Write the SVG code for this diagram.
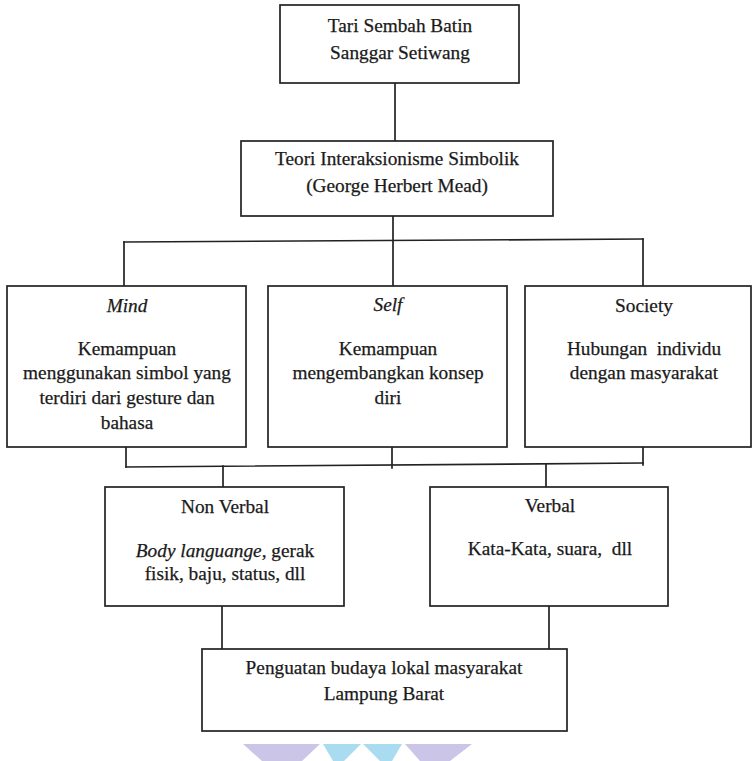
<svg xmlns="http://www.w3.org/2000/svg" width="756" height="761" viewBox="0 0 756 761">
<style>
  .box { fill: #ffffff; stroke: #222222; stroke-width: 1.7; }
  .ln { fill: none; stroke: #222222; stroke-width: 1.7; stroke-linecap: square; }
  text { font-family: "Liberation Serif", "Times New Roman", serif; font-size: 19.3px; fill: #1a1a1a; stroke: #1a1a1a; stroke-width: 0.25; text-anchor: middle; }
  .it { font-style: italic; }
</style>
<rect width="756" height="761" fill="#ffffff"/>
<g id="connectors">
  <line class="ln" x1="395" y1="83" x2="395" y2="141"/>
  <line class="ln" x1="393" y1="216" x2="393" y2="286"/>
  <line class="ln" x1="124" y1="242" x2="643" y2="239"/>
  <line class="ln" x1="124" y1="242" x2="124" y2="286"/>
  <line class="ln" x1="643" y1="239" x2="643" y2="286"/>
  <line class="ln" x1="126" y1="447" x2="126" y2="467"/>
  <line class="ln" x1="392" y1="447" x2="392" y2="468"/>
  <line class="ln" x1="643" y1="447" x2="643" y2="465"/>
  <line class="ln" x1="126" y1="467" x2="643" y2="463"/>
  <line class="ln" x1="223" y1="466" x2="223" y2="487"/>
  <line class="ln" x1="546" y1="464" x2="546" y2="487"/>
  <line class="ln" x1="222" y1="606" x2="222" y2="649"/>
  <line class="ln" x1="549" y1="606" x2="549" y2="649"/>
</g>
<g id="tari">
  <rect class="box" x="280" y="5" width="239" height="78"/>
  <text x="400" y="32">Tari Sembah Batin</text>
  <text x="400" y="59">Sanggar Setiwang</text>
</g>
<g id="teori">
  <rect class="box" x="241" y="141" width="312" height="75"/>
  <text x="397" y="165">Teori Interaksionisme Simbolik</text>
  <text x="397" y="192">(George Herbert Mead)</text>
</g>
<g id="mind">
  <rect class="box" x="7" y="286" width="239" height="161"/>
  <text class="it" x="127" y="312">Mind</text>
  <text x="127" y="355">Kemampuan</text>
  <text x="127" y="379">menggunakan simbol yang</text>
  <text x="127" y="404">terdiri dari gesture dan</text>
  <text x="127" y="429">bahasa</text>
</g>
<g id="self">
  <rect class="box" x="268" y="286" width="239" height="161"/>
  <text class="it" x="388" y="311">Self</text>
  <text x="388" y="355">Kemampuan</text>
  <text x="388" y="379">mengembangkan konsep</text>
  <text x="388" y="404">diri</text>
</g>
<g id="society">
  <rect class="box" x="525" y="286" width="226" height="161"/>
  <text x="644" y="312">Society</text>
  <text x="644" y="355" xml:space="preserve">Hubungan  individu</text>
  <text x="644" y="379">dengan masyarakat</text>
</g>
<g id="nonverbal">
  <rect class="box" x="105" y="487" width="239" height="119"/>
  <text x="225" y="513">Non Verbal</text>
  <text x="225" y="557"><tspan class="it">Body languange</tspan>, gerak</text>
  <text x="225" y="580">fisik, baju, status, dll</text>
</g>
<g id="verbal">
  <rect class="box" x="430" y="487" width="238" height="119"/>
  <text x="550" y="512">Verbal</text>
  <text x="550" y="555" xml:space="preserve">Kata-Kata, suara,  dll</text>
</g>
<g id="penguatan">
  <rect class="box" x="202" y="649" width="365" height="82"/>
  <text x="384" y="674">Penguatan budaya lokal masyarakat</text>
  <text x="384" y="700">Lampung Barat</text>
</g>
<g id="watermark">
  <polygon points="243,744 320,744 302,761 262,761" fill="#cbc5e8"/>
  <polygon points="323,744 361,744 344,761 333,761" fill="#a9dcf0"/>
  <polygon points="363,744 402,744 392,761 380,761" fill="#a9dcf0"/>
  <polygon points="405,744 472,744 450,761 420,761" fill="#cbc5e8"/>
</g>
</svg>
